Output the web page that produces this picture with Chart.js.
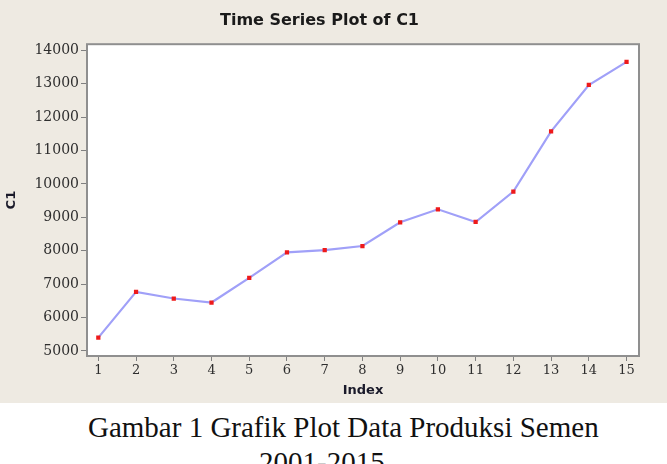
<!DOCTYPE html>
<html>
<head>
<meta charset="utf-8">
<script src="https://cdn.jsdelivr.net/npm/chart.js@4.4.1/dist/chart.umd.min.js"></script>
<style>
  html, body { margin: 0; padding: 0; background: #ffffff; width: 667px; height: 464px; overflow: hidden; }
  #wrap { position: absolute; left: 0; top: 0; width: 667px; height: 403px; background: #eeeae2; }
  canvas { display: block; }
  .cap { position: absolute; font-family: "Liberation Serif", "Times New Roman", serif; font-size: 29px; color: #111; white-space: nowrap; line-height: 35px; }
</style>
</head>
<body>
<div id="wrap"><canvas id="c" width="667" height="403"></canvas></div>
<div class="cap" id="cap1" style="left:88px; top:410px;">Gambar 1 Grafik Plot Data Produksi Semen</div>
<div class="cap" id="cap2" style="left:259px; top:445px;">2001-2015</div>
<script>
// ---- data ----
const indexCategories = [1, 2, 3, 4, 5, 6, 7, 8, 9, 10, 11, 12, 13, 14, 15];
const c1Values = [5400, 6770, 6570, 6450, 7190, 7950, 8020, 8140, 8850, 9240, 8860, 9770, 11570, 12960, 13650];
const yTickValues = [5000, 6000, 7000, 8000, 9000, 10000, 11000, 12000, 13000, 14000];
const xTickValues = indexCategories;

const chartTitle = "Time Series Plot of C1";
const xTitle = "Index";
const yTitle = "C1";

const points = indexCategories.map((v, i) => ({ x: v, y: c1Values[i] }));

const plotFrame = {
  id: 'plotFrame',
  beforeDatasetsDraw(chart) {
    const { ctx, chartArea: a } = chart;
    ctx.save();
    ctx.fillStyle = '#ffffff';
    ctx.fillRect(a.left, a.top, a.right - a.left, a.bottom - a.top);
    ctx.strokeStyle = '#8f8f8f';
    ctx.lineWidth = 2;
    ctx.strokeRect(a.left, a.top, a.right - a.left, a.bottom - a.top);
    ctx.restore();
  }
};

new Chart(document.getElementById('c'), {
  type: 'line',
  data: {
    datasets: [{
      data: points,
      borderColor: '#a0a0f8',
      borderWidth: 2.2,
      tension: 0,
      pointStyle: 'rect',
      pointRadius: 3,
      pointBackgroundColor: '#ee1a1a',
      pointBorderColor: '#ee1a1a',
      pointBorderWidth: 0
    }]
  },
  options: {
    responsive: false,
    animation: false,
    devicePixelRatio: 1,
    layout: { padding: { left: 0, right: 28, top: 0, bottom: 0 } },
    plugins: {
      legend: { display: false },
      tooltip: { enabled: false },
      title: {
        display: true,
        text: chartTitle,
        color: '#1a1a1a',
        font: { family: 'DejaVu Sans', size: 16, weight: 'bold' },
        padding: { top: 11, bottom: 14 }
      }
    },
    scales: {
      x: {
        type: 'linear',
        min: 0.7,
        max: 15.33,
        afterBuildTicks(scale) { scale.ticks = xTickValues.map(v => ({ value: v })); },
        afterFit(scale) { scale.height = 47; },
        grid: { display: true, drawOnChartArea: false, drawTicks: true, tickLength: 5, color: '#808080' },
        border: { display: false },
        ticks: {
          color: '#2e2e2e',
          font: { family: 'DejaVu Serif', size: 13 },
          padding: 2,
          maxRotation: 0,
          autoSkip: false
        },
        title: {
          display: true,
          text: xTitle,
          color: '#1a1a2a',
          font: { family: 'DejaVu Sans', size: 13, weight: 'bold' },
          padding: { top: 0, bottom: 5 }
        }
      },
      y: {
        type: 'linear',
        min: 4850,
        max: 14180,
        afterBuildTicks(scale) { scale.ticks = yTickValues.map(v => ({ value: v })); },
        afterFit(scale) { scale.width = 87; },
        grid: { display: true, drawOnChartArea: false, drawTicks: true, tickLength: 6, color: '#808080' },
        border: { display: false },
        ticks: {
          color: '#2e2e2e',
          font: { family: 'DejaVu Serif', size: 14 },
          padding: 2,
          callback: v => String(v)
        },
        title: {
          display: true,
          text: yTitle,
          color: '#1a1a2a',
          font: { family: 'DejaVu Sans', size: 13, weight: 'bold' },
          padding: { top: 4, bottom: 0 }
        }
      }
    }
  },
  plugins: [plotFrame]
});
</script>
</body>
</html>
